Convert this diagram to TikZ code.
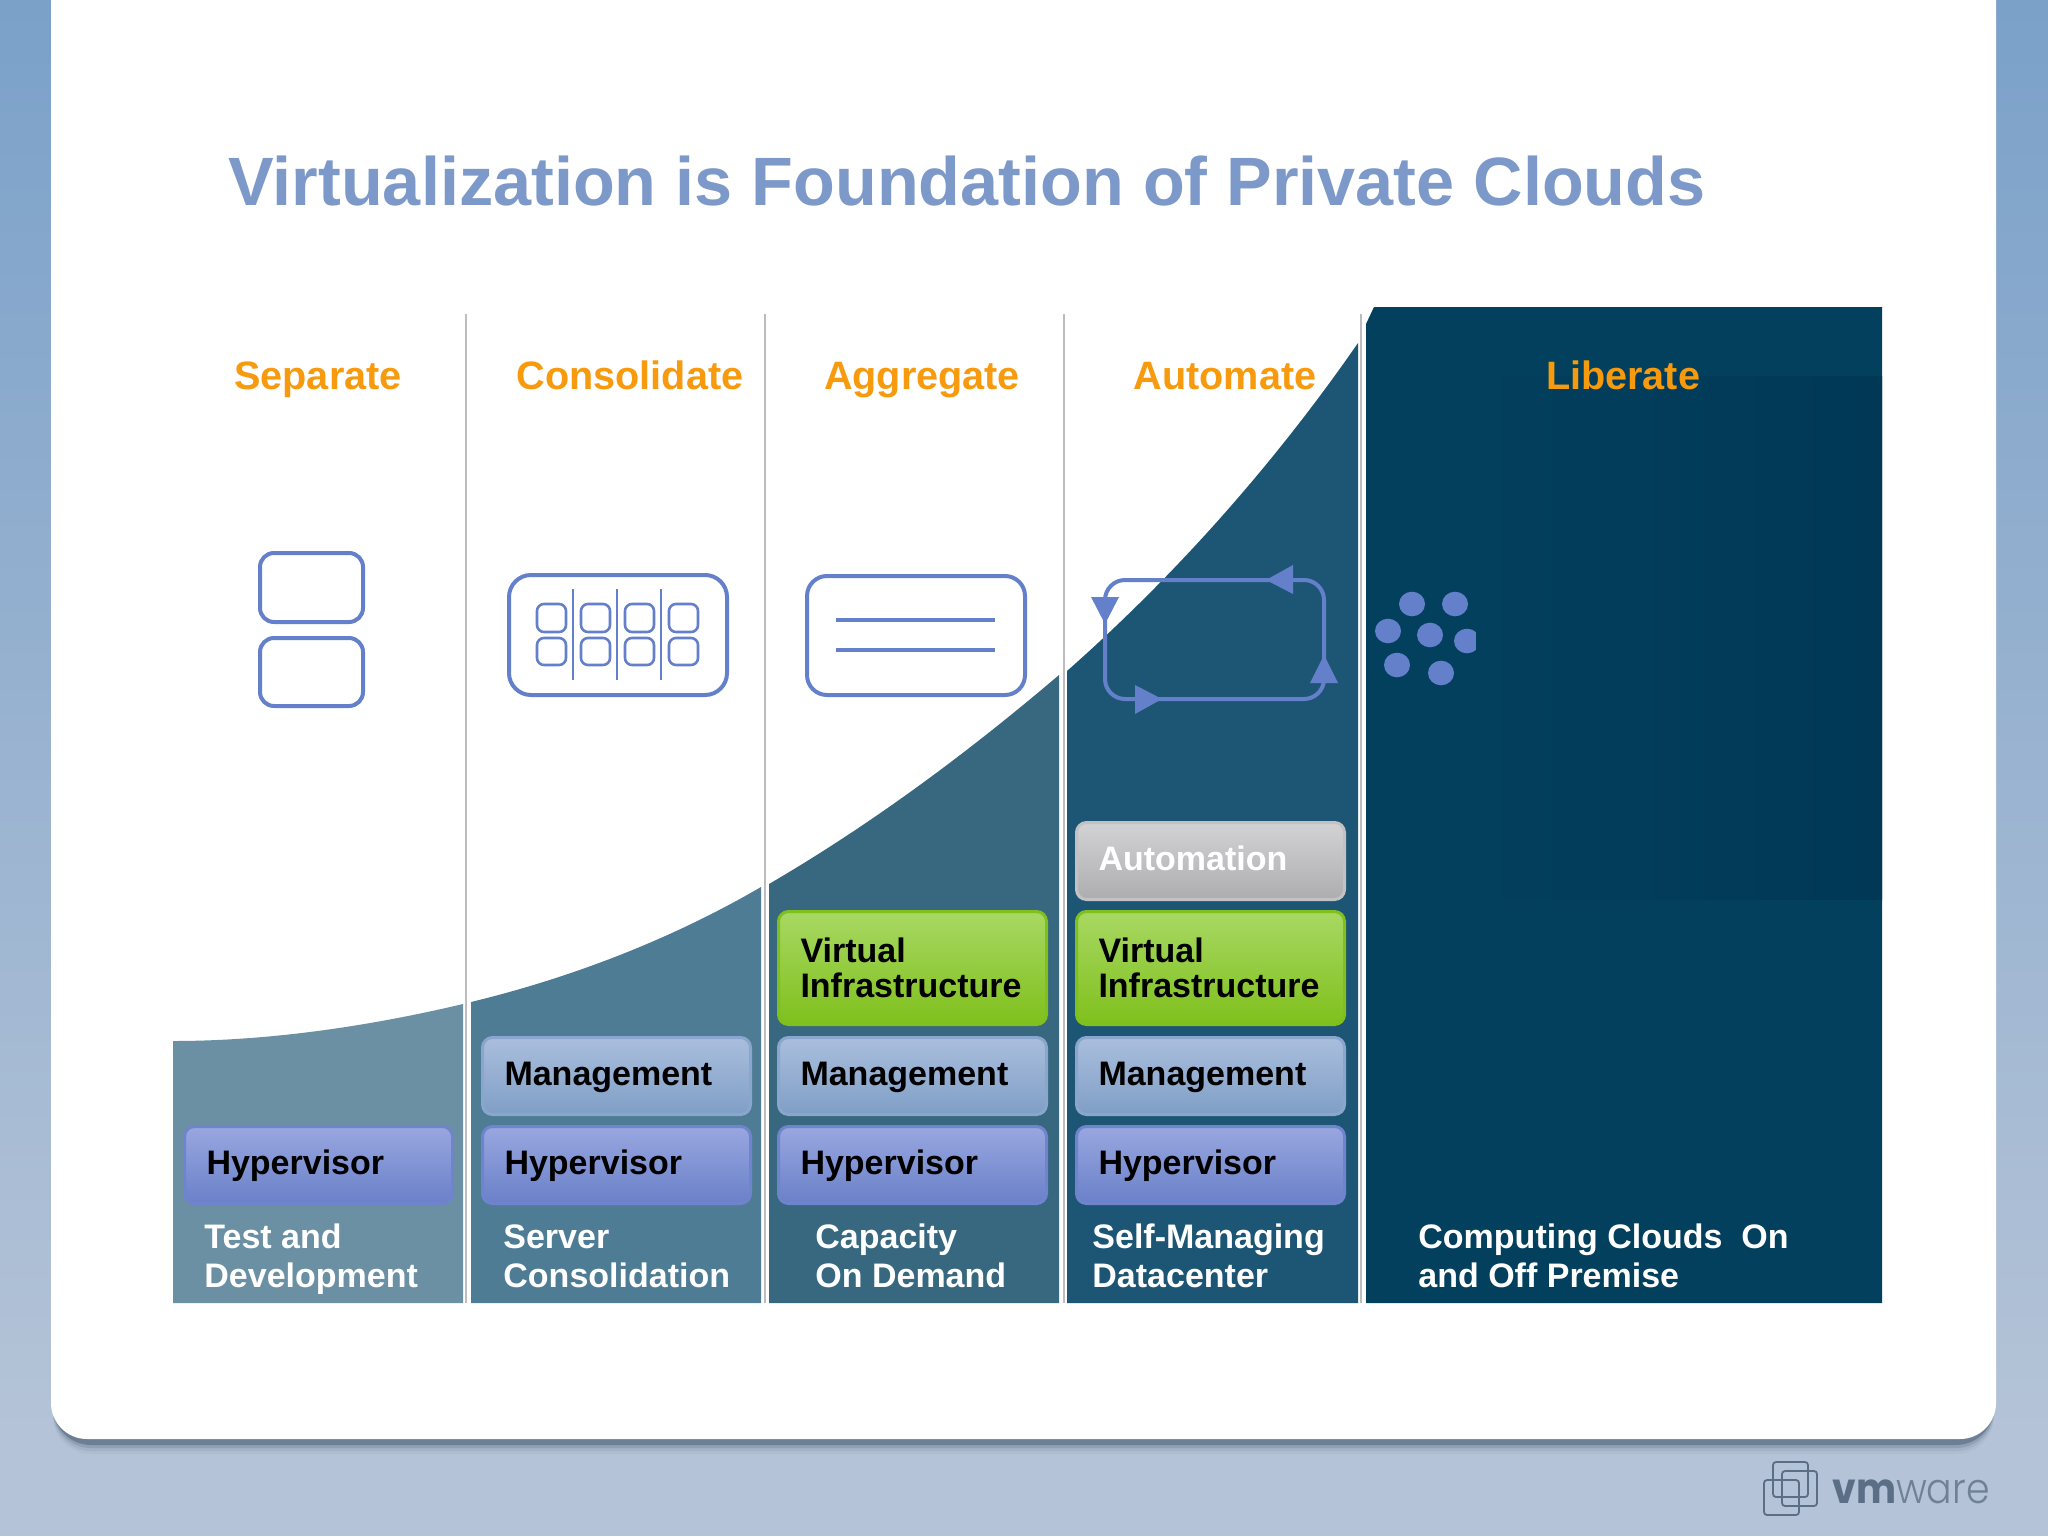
\documentclass[tikz,border=0pt]{standalone}
\usepackage{fontspec}
\setmainfont{Liberation Sans}
\newfontfamily\logobold[FakeStretch=0.9]{Poppins}
\newfontfamily\logolight[FakeStretch=0.9]{Poppins Light}
\usetikzlibrary{shapes.geometric}
\definecolor{bgtop}{HTML}{7BA1C9}
\definecolor{bgbot}{HTML}{B4C3D7}
\definecolor{icon}{HTML}{6580CB}
\definecolor{orangelab}{HTML}{F79A0E}
\definecolor{titleblue}{HTML}{7D99C9}
\definecolor{sepgrey}{HTML}{BDBDBD}
\definecolor{colA}{HTML}{6B8FA3}
\definecolor{colB}{HTML}{4F7C95}
\definecolor{colC}{HTML}{376880}
\definecolor{colD}{HTML}{1D5674}
\definecolor{colE}{HTML}{03405E}
\definecolor{colF}{HTML}{003856}
\definecolor{logogrey}{HTML}{5A6E85}
\definecolor{logolite}{HTML}{6F8196}
\definecolor{HVt}{HTML}{98A7DF}
\definecolor{HVb}{HTML}{6A80C9}
\definecolor{HVd}{HTML}{6F84CC}
\definecolor{MGt}{HTML}{AABEDD}
\definecolor{MGb}{HTML}{7F9FC6}
\definecolor{MGd}{HTML}{8AA6CC}
\definecolor{VIt}{HTML}{A8D863}
\definecolor{VIb}{HTML}{7FC01C}
\definecolor{VId}{HTML}{7FBF1E}
\definecolor{AUt}{HTML}{D3D3D5}
\definecolor{AUb}{HTML}{ADADAF}
\definecolor{AUd}{HTML}{C2C2C4}
\tikzset{
  x=0.5pt,y=-0.5pt,
  layerbox/.style={anchor=north west,rounded corners=5pt,line width=1.5pt,minimum width=134pt,text width=112pt,inner xsep=11pt,inner ysep=0pt,align=left,font=\fontsize{17}{17.5}\selectfont\bfseries,text=black},
  hvbox/.style={layerbox,minimum height=38.5pt,text height=13pt,text depth=3.5pt,top color=HVt,bottom color=HVb,draw=HVd},
  mgbox/.style={layerbox,minimum height=38.5pt,text height=13pt,text depth=3.5pt,top color=MGt,bottom color=MGb,draw=MGd},
  vibox/.style={layerbox,minimum height=56.5pt,top color=VIt,bottom color=VIb,draw=VId},
  aubox/.style={layerbox,minimum height=38.5pt,text height=13pt,text depth=3.5pt,top color=AUt,bottom color=AUb,draw=AUd,text=white},
  headlab/.style={anchor=base,font=\fontsize{19.8}{22}\selectfont\bfseries,text=orangelab,inner sep=0pt},
  footlab/.style={anchor=base west,align=left,font=\fontsize{17}{19.5}\selectfont\bfseries,text=white,inner sep=0pt},
  sepline/.style={draw=sepgrey,line width=1.4pt},
  iconline/.style={draw=icon,line width=2pt,rounded corners=7pt},
  icontip/.style={fill=icon,draw=none},
  dot/.style={ellipse,fill=icon,draw=none,minimum width=13pt,minimum height=12.3pt,inner sep=0pt},
}
\begin{document}
\begin{tikzpicture}
\useasboundingbox (0,0) rectangle (2048,1536);
% background
\fill[bgbot] (0,0) rectangle (2048,1536);
\shade[top color=bgtop,bottom color=bgbot] (0,0) rectangle (2048,1430);
% panel shadow
\foreach \o/\a in {15/0.05,12/0.10,9/0.20,6/0.45}
  \fill[black!45!bgtop,opacity=\a,rounded corners=19pt] (53,-60) rectangle (1994,1439+\o);
\fill[white,rounded corners=18pt] (51,-60) rectangle (1996,1439);
% title
\node[anchor=base west,inner sep=0pt,text=titleblue,font=\fontsize{34.2}{36}\selectfont\bfseries] (title) at (228,205) {Virtualization is Foundation of Private Clouds};
% coloured columns
\fill[colA] (173,1303) -- (173,1041) .. controls (270,1041) and (370,1026) .. (463,1004) -- (463,1303) -- cycle;
\fill[colB] (471,1303) -- (471,1002) .. controls (570,978) and (670,940) .. (761,887) -- (761,1303) -- cycle;
\fill[colC] (769,1303) -- (769,884) .. controls (870,825) and (965,755) .. (1059,675) -- (1059,1303) -- cycle;
\fill[colD] (1067,1303) -- (1067,671) .. controls (1170,580) and (1270,470) .. (1358,343) -- (1358,1303) -- cycle;
\fill[colE] (1366,1303) -- (1366,324) -- (1374,307) -- (1882,307) -- (1882,1303) -- cycle;
% separators
\coordinate (s1t) at (466,314); \coordinate (s1b) at (466,1303);
\coordinate (s2t) at (765,314); \coordinate (s2b) at (765,1303);
\coordinate (s3t) at (1064,314); \coordinate (s3b) at (1064,1303);
\coordinate (s4t) at (1361,314); \coordinate (s4b) at (1361,1303);
\draw[sepline] (s1t) -- (s1b);
\draw[sepline] (s2t) -- (s2b);
\draw[sepline] (s3t) -- (s3b);
\draw[sepline] (s4t) -- (s4b);
% dots
\node[dot] (d1) at (1412,604) {};
\node[dot] (d2) at (1455,604) {};
\node[dot] (d3) at (1388,631) {};
\node[dot] (d4) at (1430,635) {};
\node[dot] (d5) at (1467,641) {};
\node[dot] (d6) at (1397,665) {};
\node[dot] (d7) at (1441,673) {};
% darker inner region of last column
\fill[left color=colE,right color=colF] (1476,376) rectangle (1882,899);
% headers
\node[headlab] (h1) at (318,389) {Separate};
\node[headlab] (h2) at (630,389) {Consolidate};
\node[headlab] (h3) at (922,389) {Aggregate};
\node[headlab] (h4) at (1225,389) {Automate};
\node[headlab] (h5) at (1623,389) {Liberate};
% icon 1
\draw[iconline] (260,553) rectangle (363,622);
\draw[iconline] (260,638) rectangle (363,706);
% icon 2
\draw[iconline,rounded corners=11pt] (509,575) rectangle (727,695);
\foreach \x in {537,581,625,669}{
  \draw[iconline,line width=1.3pt,rounded corners=3.5pt] (\x,604) rectangle ++(29,28);
  \draw[iconline,line width=1.3pt,rounded corners=3.5pt] (\x,638) rectangle ++(29,27);
}
\foreach \x in {573,617,661}
  \draw[draw=icon,line width=0.6pt] (\x,589) -- (\x,680);
% icon 3
\draw[iconline,rounded corners=10pt] (807,576) rectangle (1025,695);
\draw[draw=icon,line width=1.6pt] (836,620) -- (995,620);
\draw[draw=icon,line width=1.6pt] (836,650) -- (995,650);
% icon 4
\draw[iconline,rounded corners=10pt] (1105,580) rectangle (1324,699);
\fill[icontip] (1266,580) -- (1293,565) -- (1293,594) -- cycle;
\fill[icontip] (1105,624) -- (1091,597) -- (1119,597) -- cycle;
\fill[icontip] (1162,699) -- (1135,685) -- (1135,714) -- cycle;
\fill[icontip] (1324,655) -- (1310,683) -- (1338,683) -- cycle;
% layer boxes
\node[hvbox] (hv1) at (183,1125) {Hypervisor};
\node[mgbox] (mg2) at (481,1036) {Management};
\node[hvbox] (hv2) at (481,1125) {Hypervisor};
\node[vibox] (vi3) at (777,910) {Virtual\\Infrastructure};
\node[mgbox] (mg3) at (777,1036) {Management};
\node[hvbox] (hv3) at (777,1125) {Hypervisor};
\node[aubox] (au4) at (1075,821) {Automation};
\node[vibox] (vi4) at (1075,910) {Virtual\\Infrastructure};
\node[mgbox] (mg4) at (1075,1036) {Management};
\node[hvbox] (hv4) at (1075,1125) {Hypervisor};
% footers
\node[footlab] (f1) at (204,1287) {Test and\\Development};
\node[footlab] (f2) at (503,1287) {Server\\Consolidation};
\node[footlab] (f3) at (815,1287) {Capacity\\On Demand};
\node[footlab] (f4) at (1092,1287) {Self-Managing\\Datacenter};
\node[footlab] (f5) at (1418,1287) {Computing Clouds\ \ On\\and Off Premise};
% logo
\foreach \x/\y in {1773/1462,1782/1471,1764/1480}
  \draw[draw=logogrey,line width=0.9pt,rounded corners=1.5pt] (\x,\y) rectangle ++(35,35);
\node[anchor=base west,inner sep=0pt,font=\fontsize{21}{21}\selectfont] (logo) at (1832,1503) {\textcolor{logogrey}{\logobold\bfseries vm}\textcolor{logolite}{\logolight ware}};
\end{tikzpicture}
\end{document}
